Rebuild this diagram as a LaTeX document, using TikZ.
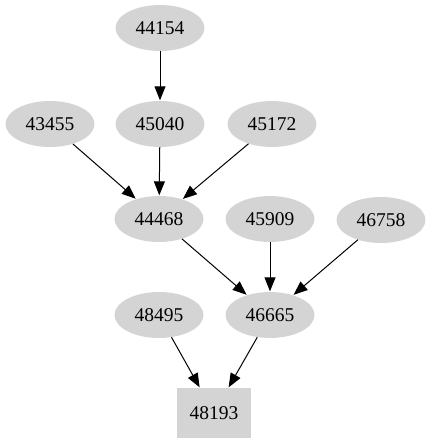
\documentclass[tikz,border=0pt]{standalone}
\usepackage{fontspec}
\setmainfont{Liberation Serif}
\usetikzlibrary{shapes.geometric,arrows.meta}
\begin{document}
\begin{tikzpicture}[x=1pt,y=-1pt,
  nd/.style={ellipse,fill=black!17,draw=none,minimum width=89pt,minimum height=46pt,inner sep=0pt,font=\fontsize{19.5}{21}\selectfont},
  bx/.style={rectangle,fill=black!17,draw=none,minimum width=74pt,minimum height=50pt,inner sep=0pt,font=\fontsize{19.5}{21}\selectfont},
  ar/.style={-{Triangle[length=14pt,width=11pt]},line width=1pt,shorten >=0.5pt}]
\useasboundingbox (0,0) rectangle (429,443);
\node[nd] (a44154) at (160,28) {44154};
\node[nd] (a43455) at (50,124) {43455};
\node[nd] (a45040) at (160,124) {45040};
\node[nd] (a45172) at (272,124) {45172};
\node[nd] (a44468) at (159,219) {44468};
\node[nd] (a45909) at (270,219) {45909};
\node[nd] (a46758) at (381,220) {46758};
\node[nd] (a48495) at (159,315) {48495};
\node[nd] (a46665) at (270,315) {46665};
\node[bx] (a48193) at (214,413) {48193};
\draw[ar] (a44154) -- (a45040);
\draw[ar] (a43455) -- (a44468);
\draw[ar] (a45040) -- (a44468);
\draw[ar] (a45172) -- (a44468);
\draw[ar] (a44468) -- (a46665);
\draw[ar] (a45909) -- (a46665);
\draw[ar] (a46758) -- (a46665);
\draw[ar] (a48495) -- (a48193);
\draw[ar] (a46665) -- (a48193);
\end{tikzpicture}
\end{document}
